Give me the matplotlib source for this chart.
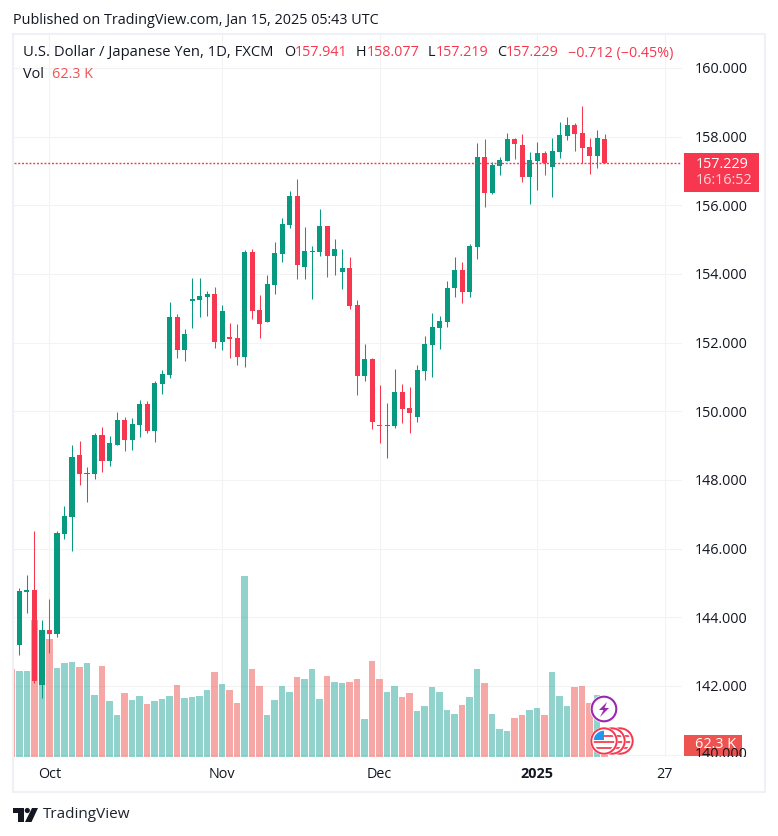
import numpy as np
import matplotlib
matplotlib.use('Agg')
import matplotlib.pyplot as plt
from matplotlib.patches import Rectangle, Circle, Polygon
from matplotlib.transforms import Bbox

plt.rcParams['font.family'] = ['Open Sans', 'DejaVu Sans']

# daily USD/JPY candles
opens = [143.60,143.19,144.74,144.79,142.03,143.63,143.51,146.43,146.92,148.73,
         148.17,148.17,149.31,148.55,149.02,149.75,149.16,149.60,150.21,149.43,
         150.79,151.06,152.75,151.79,153.21,153.24,153.33,153.42,152.02,152.16,
         152.13,151.58,154.64,152.95,152.60,153.68,154.58,155.43,156.27,154.20,
         154.64,154.64,155.40,154.52,154.06,154.17,153.10,151.03,151.52,149.60,
         149.57,149.57,150.56,150.10,149.83,151.17,151.93,152.43,152.60,153.59,
         154.12,153.47,154.79,157.41,156.36,157.15,157.29,157.93,157.76,156.82,
         157.29,157.52,157.12,157.55,158.02,158.34,158.11,157.70,157.44,157.941]
closes = [143.19,144.77,144.79,142.14,143.63,143.51,146.45,146.95,148.67,148.17,
          148.20,149.31,148.55,149.08,149.75,149.16,149.63,150.21,149.43,150.82,
          151.09,152.75,151.79,152.25,153.27,153.36,153.42,152.02,152.92,152.11,
          151.58,154.64,152.92,152.54,153.71,154.61,155.46,156.27,154.26,154.67,
          154.67,155.40,154.52,154.73,154.17,153.07,151.03,151.52,149.69,149.57,
          149.60,150.56,150.07,149.95,151.20,151.96,152.46,152.63,153.59,154.12,
          153.47,154.81,157.41,156.36,157.17,157.32,157.93,157.79,156.82,157.32,
          157.52,157.23,157.58,158.05,158.34,158.08,157.67,157.44,157.96,157.229]
highs = [143.60,144.85,145.23,146.51,143.92,144.53,146.51,147.24,149.02,149.13,
         148.38,149.37,149.54,149.28,149.98,149.83,149.80,150.33,150.30,150.88,
         151.20,153.18,152.83,152.40,153.88,153.88,153.50,153.62,153.10,152.57,
         152.54,154.70,154.73,153.39,153.97,154.93,155.63,156.42,156.77,155.37,
         154.81,155.89,155.40,155.02,154.73,154.49,153.24,151.96,151.55,150.77,
         150.24,151.23,150.79,150.71,151.35,152.19,152.86,152.78,153.80,154.49,
         154.35,154.87,157.82,157.93,157.26,157.41,158.11,157.96,158.08,157.55,
         157.84,157.58,157.96,158.43,158.57,158.40,158.89,157.96,158.19,158.077]
lows = [143.19,142.90,144.13,142.09,141.65,142.96,143.42,146.28,145.93,147.85,
        147.36,148.03,148.23,148.41,149.02,148.84,148.87,149.25,149.37,149.11,
        150.50,150.97,151.55,151.46,152.43,152.75,152.78,151.84,151.79,151.55,
        151.35,151.29,152.69,152.13,152.60,153.42,154.35,155.34,153.85,153.85,
        153.27,154.52,153.91,153.97,153.56,152.98,150.47,150.88,149.48,149.08,
        148.64,149.51,149.66,149.37,149.69,150.91,151.00,151.81,152.46,153.33,
        153.15,153.33,154.44,155.95,156.33,156.88,157.29,157.35,156.68,156.04,
        156.45,156.88,156.24,157.38,157.90,157.58,157.23,156.91,157.09,157.219]
# volume in thousands
volume = [457,446,446,711,493,612,462,488,493,467,
          488,322,472,291,218,332,296,317,275,291,
          301,317,374,306,311,317,348,441,379,348,
          280,939,457,368,218,296,368,337,415,405,
          457,301,420,389,384,389,405,197,498,405,
          337,368,311,332,239,265,363,337,244,223,
          270,311,457,384,223,145,135,202,218,244,
          254,218,441,317,265,363,368,280,322,62.3]

price_ticks = [142,144,146,148,150,152,154,156,158,160]
date_pos = [5,28,49,70,87]
date_labels = ['Oct','Nov','Dec','2025','27']

GREEN = '#089981'
RED = '#F7374F'
TXT = '#131722'
GRID = '#f3f3f3'
FS = 10.4

W, H = 778, 836
fig = plt.figure(figsize=(W/100, H/100), dpi=100, facecolor='white')
pos = [14/W, 1-757/H, 668/W, 722/H]

x = np.arange(len(opens))
opens = np.array(opens)
closes = np.array(closes)
up = closes >= opens
xlim = (0.267, 89.33)
ylim = (139.93, 160.96)

# grid and axis labels sit on the bottom axes
ax_grid = fig.add_axes(pos, zorder=0)
ax_grid.set_xlim(xlim)
ax_grid.set_ylim(ylim)
ax_grid.yaxis.tick_right()
ax_grid.set_yticks([140]+price_ticks)
ax_grid.set_yticklabels(['']+['%.3f' % p for p in price_ticks])
ax_grid.set_xticks(date_pos)
ax_grid.set_xticklabels(date_labels)
ax_grid.get_xticklabels()[3].set_fontweight('bold')
ax_grid.tick_params(length=0, labelsize=FS, labelcolor=TXT)
ax_grid.tick_params(axis='y', pad=9)
ax_grid.tick_params(axis='x', pad=7)
ax_grid.grid(color=GRID, linewidth=0.75)
ax_grid.set_axisbelow(True)
for s in ax_grid.spines.values():
    s.set_visible(False)

# volume
ax_vol = fig.add_axes(pos, zorder=1)
ax_vol.patch.set_visible(False)
ax_vol.set_xlim(xlim)
ax_vol.set_ylim(0, 3747)
ax_vol.axis('off')
ax_vol.bar(x, volume, width=0.86, linewidth=0,
           color=['#26a69a' if u else '#ef5350' for u in up], alpha=0.5)

# candles
ax = fig.add_axes(pos, zorder=2)
ax.patch.set_visible(False)
ax.set_xlim(xlim)
ax.set_ylim(ylim)
ax.axis('off')
colors = [GREEN if u else RED for u in up]
ax.vlines(x, lows, highs, colors=colors, linewidth=0.75)
ax.bar(x, np.abs(closes-opens), bottom=np.minimum(opens, closes), width=0.667,
       color=colors, linewidth=0)
ax.axhline(closes[-1], color=RED, linewidth=1.0, linestyle=(0, (1.4, 1.3)))

# everything else is placed in picture pixels
ov = fig.add_axes([0, 0, 1, 1], zorder=5)
ov.set_xlim(0, W)
ov.set_ylim(H, 0)
ov.axis('off')
ov.patch.set_visible(False)

ov.add_patch(Rectangle((13, 34), 752, 758, fill=False, edgecolor='#eff1f6', linewidth=1.5))

ov.text(13, 20, 'Published on TradingView.com, Jan 15, 2025 05:43 UTC',
        fontsize=FS, color=TXT, va='center')

ov.text(23, 53, 'U.S. Dollar / Japanese Yen, 1D, FXCM', fontsize=10.6, color=TXT, va='center')
for px, s, c in [(284, 'O', TXT), (295, '157.941', RED), (356, 'H', TXT), (367, '158.077', RED),
                 (428, 'L', TXT), (436, '157.219', RED), (497, 'C', TXT), (506, '157.229', RED),
                 (568, '\u22120.712 (\u22120.45%)', RED)]:
    ov.text(px, 53, s, fontsize=FS, color=c, va='center')
ov.text(23, 74, 'Vol', fontsize=FS, color=TXT, va='center')
ov.text(52, 74, '62.3 K', fontsize=FS, color='#ef5350', va='center')

# 140.000 is cut off by the bottom of the pane
t = ov.text(695, 755, '140.000', fontsize=FS, color=TXT, va='center')
t.set_clip_on(True)
t.set_clip_box(Bbox([[690, H-757], [770, H-700]]))

# price and volume tags on the scale
ov.add_patch(Rectangle((684, 153), 75, 39, color=RED, linewidth=0))
ov.text(696, 164, '157.229', fontsize=FS, color='white', va='center')
ov.text(696, 181, '16:16:52', fontsize=FS, color='#fdd5da', va='center')
ov.add_patch(Rectangle((684, 735), 58, 21, color='#ef5350', linewidth=0))
ov.text(695, 745, '62.3 K', fontsize=FS, color='white', va='center')

# event markers
ov.add_patch(Circle((604, 709), 14, color='white', linewidth=0))
ov.add_patch(Circle((604, 709), 12.3, facecolor='white', edgecolor='#9C27B0', linewidth=1.5))
ov.add_patch(Polygon([(607, 702), (599, 710), (603.5, 710), (600, 717), (609, 708), (604.5, 708)],
                     color='#9C27B0', linewidth=0))
for cx in [620, 612, 604]:
    ov.add_patch(Circle((cx, 741), 14, color='white', linewidth=0))
    ov.add_patch(Circle((cx, 741), 12.7, facecolor='white', edgecolor=RED, linewidth=1.4))
    clip = Circle((cx, 741), 10.3, transform=ov.transData)
    for sy, sh in [(735, 2.4), (741, 2.4), (747, 2.4)]:
        r = ov.add_patch(Rectangle((cx-11, sy), 22, sh, color='#F7525F', linewidth=0))
        r.set_clip_path(clip)
    b = ov.add_patch(Rectangle((cx-11, 730), 11, 10, color='#2196F3', linewidth=0))
    b.set_clip_path(clip)

# logo
ov.add_patch(Polygon([(13, 808), (24, 808), (24, 822), (18.5, 822), (18.5, 813), (13, 813)],
                     color='#131722', linewidth=0))
ov.add_patch(Circle((27.3, 810.5), 2.6, color='#131722', linewidth=0))
ov.add_patch(Polygon([(32, 808), (38, 808), (31.5, 822), (25, 822)], color='#131722', linewidth=0))
ov.text(43, 815, 'TradingView', fontsize=11, color='#1e222d', va='center')

fig.savefig('out.png', dpi=100)
